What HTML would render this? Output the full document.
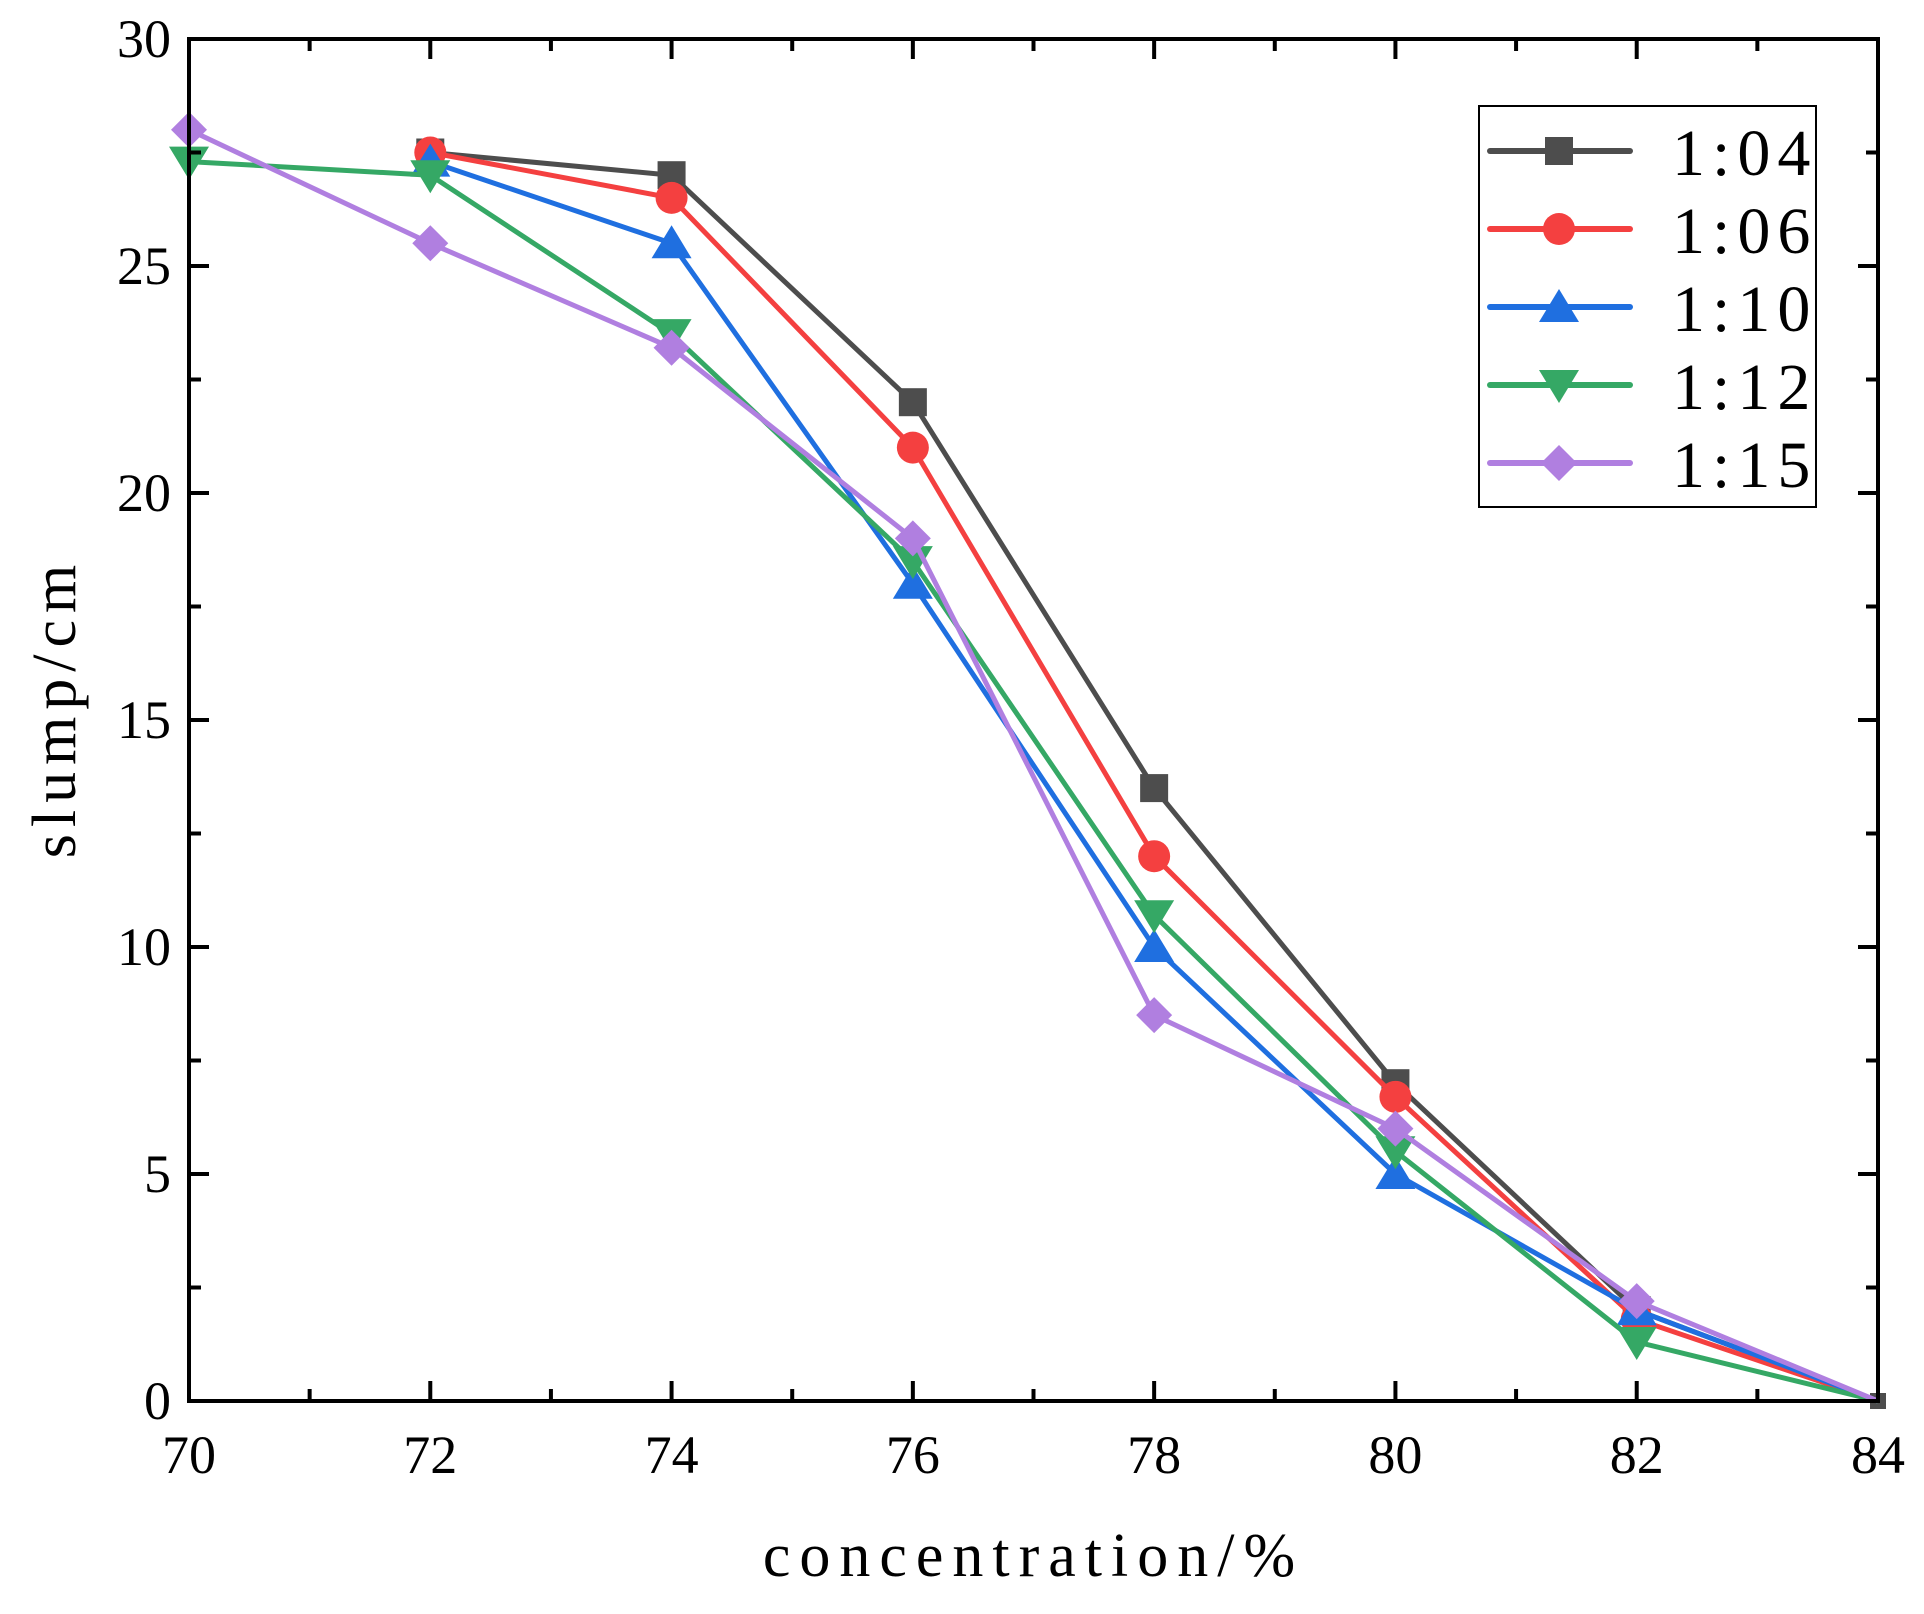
<!DOCTYPE html>
<html><head><meta charset="utf-8"><style>
body{margin:0;background:#fff}
svg text{font-family:"Liberation Serif",serif;fill:#000}
</style></head><body>
<svg id="chart" width="1924" height="1609" xmlns="http://www.w3.org/2000/svg"></svg>
<script>
const xTicks=[70,72,74,76,78,80,82,84];
const yTicks=[0,5,10,15,20,25,30];
const seriesNames=["1:04","1:06","1:10","1:12","1:15"];
const colors=["#4d4d4d","#f44040","#1f6fe0","#35a865","#b07fe0"];
const markers=["square","circle","up","down","diamond"];
const x04=[72,74,76,78,80,82,84], y04=[27.5,27,22,13.5,7,2,0];
const x06=[72,74,76,78,80,82,84], y06=[27.5,26.5,21,12,6.7,1.8,0];
const x10=[72,74,76,78,80,82,84], y10=[27.3,25.5,18,10,5,2,0];
const x12=[70,72,74,76,78,80,82,84], y12=[27.3,27,23.5,18.5,10.7,5.5,1.3,0];
const x15=[70,72,74,76,78,80,82,84], y15=[28,25.5,23.2,19,8.5,6,2.2,0];
const xs=[x04,x06,x10,x12,x15], ys=[y04,y06,y10,y12,y15];

const L=189,R=1878,T=39,B=1401;
const sx=v=>L+(v-70)/14*(R-L);
const sy=v=>B-(v/30)*(B-T);
const svg=document.getElementById('chart');
const NS='http://www.w3.org/2000/svg';
function mk(tag,a,parent){const e=document.createElementNS(NS,tag);for(const k in a)e.setAttribute(k,a[k]);(parent||svg).appendChild(e);return e;}

function marker(type,cx,cy,c,g,s){
  s=s||14;let e;
  if(type==="square")e=mk('rect',{x:cx-s,y:cy-s,width:2*s,height:2*s,fill:c},g);
  else if(type==="circle")e=mk('circle',{cx:cx,cy:cy,r:s+2,fill:c},g);
  else if(type==="up")e=mk('polygon',{points:`${cx},${cy-s-4} ${cx-s-6},${cy+s+1} ${cx+s+6},${cy+s+1}`,fill:c},g);
  else if(type==="down")e=mk('polygon',{points:`${cx},${cy+s+4} ${cx-s-6},${cy-s-1} ${cx+s+6},${cy-s-1}`,fill:c},g);
  else e=mk('polygon',{points:`${cx},${cy-s-4} ${cx+s+4},${cy} ${cx},${cy+s+4} ${cx-s-4},${cy}`,fill:c},g);
  
  
}

for(let i=0;i<5;i++){
  const g=mk('g',{});
  
  
  const pts=xs[i].map((x,j)=>sx(x)+','+sy(ys[i][j])).join(' ');
  const pl=mk('polyline',{points:pts,fill:'none',stroke:colors[i],'stroke-width':5,'stroke-linejoin':'round'},g);
  
  
  xs[i].forEach((x,j)=>{
    if(x===84){ if(i===0) marker(markers[i],sx(x),sy(ys[i][j]),colors[i],g,8); return; }
    marker(markers[i],sx(x),sy(ys[i][j]),colors[i],g);
  });
}

const fr=mk('rect',{x:L,y:T,width:R-L,height:B-T,fill:'none',stroke:'#000','stroke-width':4});


for(let v=70;v<=84;v++){
  const len=(v%2===0)?20:12;const x=sx(v);
  mk('line',{x1:x,y1:B,x2:x,y2:B-len,stroke:'#000','stroke-width':4});
  mk('line',{x1:x,y1:T,x2:x,y2:T+len,stroke:'#000','stroke-width':4});
}
for(let v=0;v<=30;v+=2.5){
  const len=(v%5===0)?20:12;const y=sy(v);
  mk('line',{x1:L,y1:y,x2:L+len,y2:y,stroke:'#000','stroke-width':4});
  mk('line',{x1:R,y1:y,x2:R-len,y2:y,stroke:'#000','stroke-width':4});
}
xTicks.forEach(v=>{const t=mk('text',{x:sx(v),y:B+72,'font-size':54,'text-anchor':'middle'});t.textContent=v;
  });
yTicks.forEach(v=>{const t=mk('text',{x:L-18,y:sy(v)+18,'font-size':54,'text-anchor':'end'});t.textContent=v;
  });
const xt=mk('text',{x:(L+R)/2,y:1576,'font-size':62,'text-anchor':'middle','letter-spacing':9});xt.textContent='concentration/%';

const yt=mk('text',{x:0,y:0,'font-size':62,'text-anchor':'middle','letter-spacing':7,transform:`translate(75,708) rotate(-90)`});yt.textContent='slump/cm';


const lg=mk('g',{});


mk('rect',{x:1479,y:106,width:337,height:401,fill:'#fff',stroke:'#000','stroke-width':2},lg);
for(let i=0;i<5;i++){
  const y=151+i*78;
  const e=mk('g',{},lg);
  
  
  mk('line',{x1:1490,y1:y,x2:1630,y2:y,stroke:colors[i],'stroke-width':6,'stroke-linecap':'round'},e);
  marker(markers[i],1559,y,colors[i],e);
  const t=mk('text',{x:1672,y:y+24,'font-size':66,'letter-spacing':7},e);t.textContent=seriesNames[i];
}
</script>
</body></html>
